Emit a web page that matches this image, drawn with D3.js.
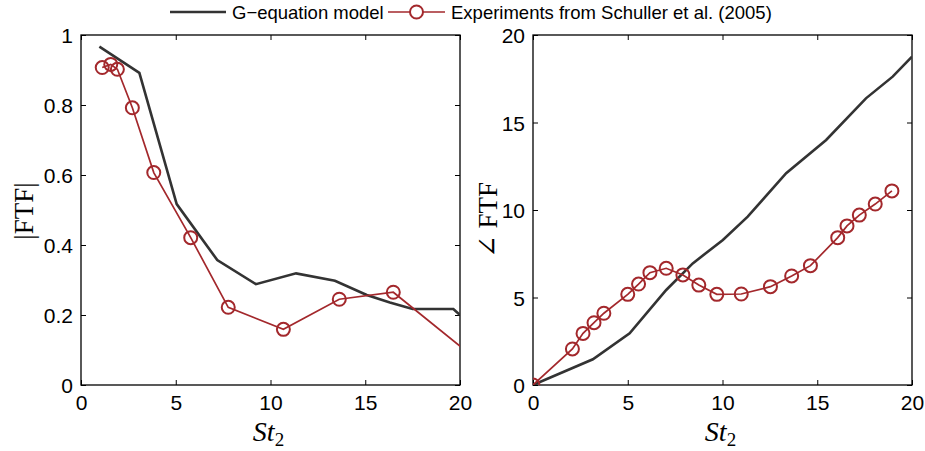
<!DOCTYPE html>
<html>
<head>
<meta charset="utf-8">
<script src="https://cdn.jsdelivr.net/npm/d3@7"></script>
<style>
  body { margin: 0; background: #fff; }
  svg { display: block; }
  .tick text { font-family: "Liberation Sans", Arial, sans-serif; font-size: 21px; fill: #000; }
</style>
</head>
<body>
<div id="chart"></div>
<script>
// St_2 values and FTF gain / phase
const gainModelX = [0.97, 3.08, 5.05, 7.19, 9.23, 11.35, 13.4, 15.08, 16.3, 17.5, 19.65, 20];
const gainModelY = [0.967, 0.892, 0.517, 0.357, 0.288, 0.319, 0.298, 0.257, 0.236, 0.217, 0.217, 0.2];
const gainExpX = [1.12, 1.57, 1.92, 2.71, 3.84, 5.79, 7.77, 10.68, 13.63, 16.48, 21.4];
const gainExpY = [0.907, 0.916, 0.902, 0.792, 0.607, 0.421, 0.222, 0.159, 0.245, 0.265, 0.05];

const phaseModelX = [0, 3.16, 5.1, 7.03, 8.43, 10.02, 11.33, 13.36, 15.47, 17.57, 18.98, 20];
const phaseModelY = [0, 1.47, 2.95, 5.43, 6.95, 8.29, 9.62, 12.1, 14.0, 16.38, 17.62, 18.76];
const phaseExpX = [0, 2.08, 2.64, 3.22, 3.74, 5.0, 5.57, 6.17, 7.03, 7.91, 8.75, 9.7, 10.99, 12.53, 13.65, 14.64, 16.08, 16.57, 17.22, 18.06, 18.94];
const phaseExpY = [0, 2.06, 2.95, 3.56, 4.1, 5.18, 5.77, 6.42, 6.67, 6.29, 5.71, 5.18, 5.2, 5.62, 6.23, 6.82, 8.42, 9.09, 9.71, 10.34, 11.09];

const xTicks = [0, 5, 10, 15, 20];
const gainTicks = [0, 0.2, 0.4, 0.6, 0.8, 1];
const phaseTicks = [0, 5, 10, 15, 20];
const legendLabels = ['G\u2212equation model', 'Experiments from Schuller et al. (2005)'];

const width = 925, height = 451;
const modelColor = '#333333';
const expColor = '#a3282c';

const svg = d3.select('#chart').append('svg')
  .attr('width', width).attr('height', height);

function zip(xs, ys) { return xs.map((x, i) => [x, ys[i]]); }

// draws one panel; box gives the pixel edges of the axes
function panel(id, box, yMax, yTicks, yFmt, model, exp, yLabel, yLabelPos) {
  const x = d3.scaleLinear().domain([0, 20]).range([box.left, box.right]);
  const y = d3.scaleLinear().domain([0, yMax]).range([box.bottom, box.top]);
  const g = svg.append('g');

  g.append('clipPath').attr('id', id)
    .append('rect')
    .attr('x', box.left).attr('y', box.top)
    .attr('width', box.right - box.left).attr('height', box.bottom - box.top);

  const tk = 5;
  // inward ticks on all four sides, like a matlab box
  const bx = g.append('g').attr('transform', `translate(0,${box.bottom})`)
    .call(d3.axisBottom(x).tickValues(xTicks).tickSizeInner(-tk).tickSizeOuter(0).tickPadding(10).tickFormat(d3.format('d')));
  g.append('g').attr('transform', `translate(0,${box.top})`)
    .call(d3.axisTop(x).tickValues(xTicks).tickSizeInner(-tk).tickSizeOuter(0).tickFormat(''));
  const ly = g.append('g').attr('transform', `translate(${box.left},0)`)
    .call(d3.axisLeft(y).tickValues(yTicks).tickSizeInner(-tk).tickSizeOuter(0).tickPadding(8).tickFormat(yFmt));
  g.append('g').attr('transform', `translate(${box.right},0)`)
    .call(d3.axisRight(y).tickValues(yTicks).tickSizeInner(-tk).tickSizeOuter(0).tickFormat(''));
  g.selectAll('.domain').remove();
  g.selectAll('.tick line').attr('stroke', '#000').attr('stroke-width', 1);
  bx.selectAll('.tick text').attr('dy', null).attr('dominant-baseline', 'hanging');
  ly.selectAll('.tick text').attr('dy', null).attr('dominant-baseline', 'central');

  g.append('rect')
    .attr('x', box.left).attr('y', box.top)
    .attr('width', box.right - box.left).attr('height', box.bottom - box.top)
    .attr('fill', 'none').attr('stroke', '#000').attr('stroke-width', 1.3);

  const line = d3.line().x(d => x(d[0])).y(d => y(d[1]));
  const plot = g.append('g').attr('clip-path', `url(#${id})`);

  plot.append('path').datum(model)
    .attr('d', line).attr('fill', 'none')
    .attr('stroke', modelColor).attr('stroke-width', 2.6);
  plot.append('path').datum(exp)
    .attr('d', line).attr('fill', 'none')
    .attr('stroke', expColor).attr('stroke-width', 1.7);
  plot.selectAll('circle').data(exp).enter().append('circle')
    .attr('cx', d => x(d[0])).attr('cy', d => y(d[1])).attr('r', 6.5)
    .attr('fill', 'none').attr('stroke', expColor).attr('stroke-width', 2);

  // x label St_2
  const xl = g.append('text')
    .attr('x', (box.left + box.right) / 2 - 2).attr('y', 441)
    .attr('text-anchor', 'middle')
    .attr('font-family', '"Liberation Serif", "DejaVu Serif", serif')
    .attr('font-style', 'italic').attr('font-size', 28);
  xl.append('tspan').text('St');
  xl.append('tspan').attr('font-size', 19).attr('dy', 5).attr('font-style', 'normal').text('2');

  g.append('text')
    .attr('transform', `translate(${yLabelPos[0]},${yLabelPos[1]}) rotate(-90)`)
    .attr('text-anchor', 'middle')
    .attr('font-family', '"Liberation Serif", "DejaVu Serif", serif')
    .attr('font-size', 27)
    .text(yLabel);
}

panel('clipL', { left: 81, right: 460, top: 35, bottom: 385 }, 1, gainTicks,
  d => d === 0 || d === 1 ? d3.format('d')(d) : d3.format('.1f')(d),
  zip(gainModelX, gainModelY), zip(gainExpX, gainExpY), '|FTF|', [33, 211]);
panel('clipR', { left: 533, right: 912, top: 35, bottom: 385 }, 20, phaseTicks,
  d3.format('d'),
  zip(phaseModelX, phaseModelY), zip(phaseExpX, phaseExpY), '\u2220 FTF', [497, 220]);

// legend across the top
const leg = svg.append('g').attr('font-family', '"Liberation Sans", Arial, sans-serif').attr('font-size', 18.5);
leg.append('line').attr('x1', 170).attr('x2', 226).attr('y1', 12).attr('y2', 12)
  .attr('stroke', modelColor).attr('stroke-width', 2.6);
leg.append('text').attr('x', 232).attr('y', 18.5).text(legendLabels[0]);
leg.append('line').attr('x1', 388).attr('x2', 445).attr('y1', 12).attr('y2', 12)
  .attr('stroke', expColor).attr('stroke-width', 1.7);
leg.append('circle').attr('cx', 416.5).attr('cy', 12).attr('r', 6.5)
  .attr('fill', '#fff').attr('stroke', expColor).attr('stroke-width', 2);
leg.append('text').attr('x', 451).attr('y', 18.5).text(legendLabels[1]);
</script>
</body>
</html>
